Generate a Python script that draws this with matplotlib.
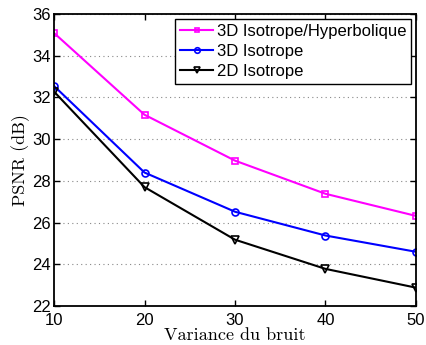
import numpy as np
import matplotlib
matplotlib.use("Agg")
import matplotlib.pyplot as plt

# ---------------- data ----------------
variance = [10, 20, 30, 40, 50]
psnr_3d_hyp = [35.09, 31.17, 28.97, 27.38, 26.32]
psnr_3d_iso = [32.55, 28.40, 26.52, 25.38, 24.60]
psnr_2d_iso = [32.28, 27.70, 25.18, 23.78, 22.88]
labels = ["3D Isotrope/Hyperbolique", "3D Isotrope", "2D Isotrope"]

plt.rcParams["font.family"] = ["Liberation Sans", "DejaVu Sans"]

fig = plt.figure(figsize=(4.26, 3.45), dpi=100)
ax = fig.add_axes([0.1268, 0.113, 0.9765 - 0.1268, 0.9594 - 0.113])

ax.plot(variance, psnr_3d_hyp, color="#ff00ff", lw=1.5, marker="s", ms=4,
        mfc="none", mew=1.2, label=labels[0])
ax.plot(variance, psnr_3d_iso, color="#0000ff", lw=1.5, marker="o", ms=5,
        mfc="none", mew=1.2, label=labels[1])
ax.plot(variance, psnr_2d_iso, color="black", lw=1.5, marker="v", ms=5.5,
        mfc="none", mew=1.2, label=labels[2])

ax.set_xlim(10, 50); ax.set_ylim(22, 36)
ax.set_xticks([10, 20, 30, 40, 50])
ax.set_yticks(np.arange(22, 37, 2))
ax.tick_params(direction="in", top=True, right=True, labelsize=12, length=4,
               width=1)
ax.tick_params(axis="x", pad=5)
ax.tick_params(axis="y", pad=2)
ax.grid(axis="y", linestyle=(0, (1, 3)), color="#888888", lw=0.8)
for s in ax.spines.values():
    s.set_linewidth(1.3)

ax.set_xlabel("Variance du bruit", family="cmr10", fontsize=13, labelpad=0)
ax.set_ylabel("PSNR (dB)", family="cmr10", fontsize=13, labelpad=2)

leg = ax.legend(loc="upper right", fontsize=12, handlelength=2.0,
                handletextpad=0.2, borderpad=0.3, labelspacing=0.3,
                borderaxespad=0.28, fancybox=False, framealpha=1,
                edgecolor="black", markerscale=0.8)
leg.get_frame().set_linewidth(1.0)

fig.savefig("out.png", dpi=100)
